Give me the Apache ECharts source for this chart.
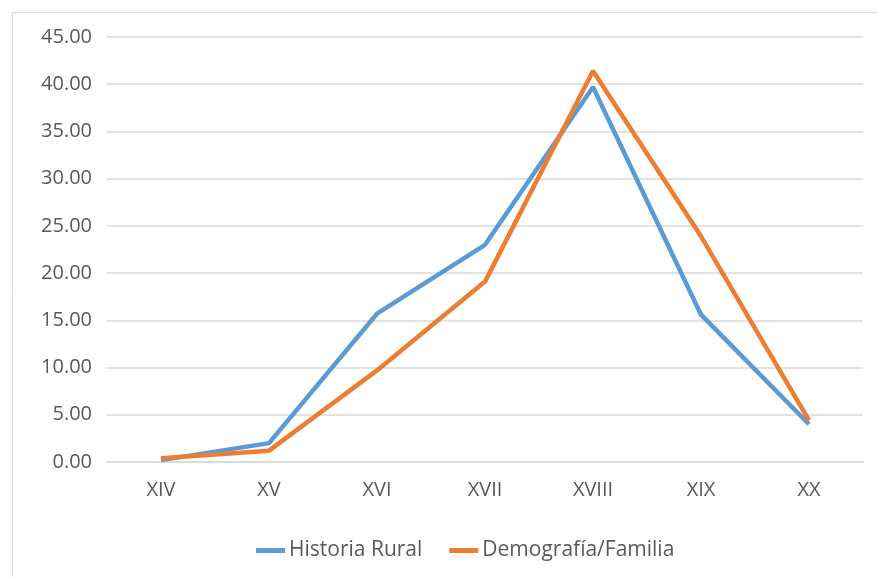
<!DOCTYPE html>
<html><head><meta charset="utf-8">
<script src="https://cdn.jsdelivr.net/npm/echarts@6/dist/echarts.min.js"></script>
<style>html,body{margin:0;padding:0;background:#fff}#c{width:877px;height:577px}</style>
</head><body><div id="c"></div>
<script>
const categories = ['XIV','XV','XVI','XVII','XVIII','XIX','XX'];
const historiaRural = [0.2, 2.0, 15.7, 23.0, 39.7, 15.6, 4.0];
const demografiaFamilia = [0.4, 1.2, 9.7, 19.1, 41.4, 23.9, 4.4];
const seriesNames = ['Historia Rural', 'Demografía/Familia'];

const chart = echarts.init(document.getElementById('c'));
const font = '"Open Sans", sans-serif';
chart.setOption({
  animation: false,
  graphic: [{type:'rect', shape:{x:12.5,y:12.5,width:880,height:580}, style:{fill:'none', stroke:'#d9d9d9', lineWidth:1}}],
  grid: {left:107, right:14, top:37, bottom:115, containLabel:false},
  legend: {
    top: 535, left: 251, itemWidth: 29, itemHeight: 5, itemGap: 27,
    icon: 'rect',
    textStyle: {color:'#595959', fontSize:21, fontFamily:font, padding:[0,0,0,-1]},
    data: seriesNames
  },
  xAxis: {
    type:'category', data: categories, boundaryGap: true,
    axisLine:{show:true, lineStyle:{color:'#d9d9d9', width:1.5}}, axisTick:{show:false},
    axisLabel:{color:'#595959', fontSize:20, fontFamily:font, margin:18}
  },
  yAxis: {
    type:'value', min:0, max:45, interval:5,
    axisLine:{show:false}, axisTick:{show:false},
    splitLine:{lineStyle:{color:'#d9d9d9', width:1.5}},
    axisLabel:{color:'#595959', fontSize:20, fontFamily:font, margin:15, formatter: v => v.toFixed(2)}
  },
  series: [
    {name: seriesNames[0], type:'line', data: historiaRural, symbol:'none', lineStyle:{color:'#5B9BD5', width:4.5}, itemStyle:{color:'#5B9BD5'}},
    {name: seriesNames[1], type:'line', data: demografiaFamilia, symbol:'none', lineStyle:{color:'#ED7D31', width:4.5}, itemStyle:{color:'#ED7D31'}}
  ]
});
</script></body></html>
